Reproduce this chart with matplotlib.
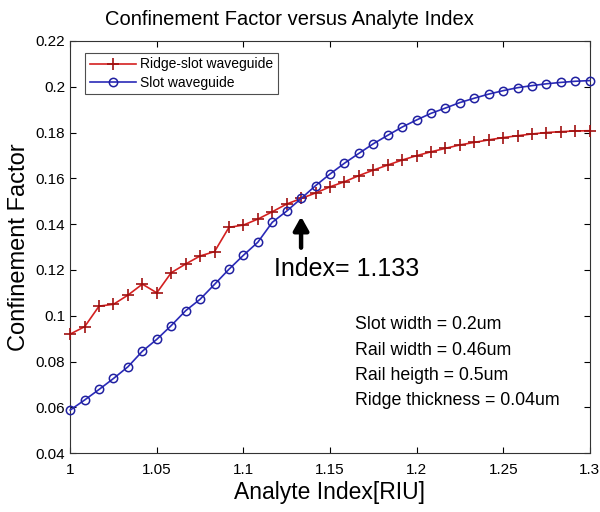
import matplotlib
matplotlib.use("Agg")
import matplotlib.pyplot as plt
import numpy as np
from matplotlib.ticker import FuncFormatter

plt.rcParams["font.family"] = ["Liberation Sans", "DejaVu Sans"]

# analyte index, step 1/120
n_index = np.array([1 + i / 120 for i in range(37)])

ridge_slot = [0.0920, 0.0952, 0.1042, 0.1050, 0.1090, 0.1138, 0.1100, 0.1188,
              0.1226, 0.1261, 0.1280, 0.1386, 0.1396, 0.1422, 0.1454, 0.1488,
              0.1512, 0.1536, 0.1563, 0.1585, 0.1612, 0.1636, 0.1658, 0.1680,
              0.1699, 0.1716, 0.1731, 0.1746, 0.1757, 0.1768, 0.1778, 0.1786,
              0.1794, 0.1800, 0.1804, 0.1807, 0.1808]

slot = [0.0588, 0.0632, 0.0678, 0.0726, 0.0777, 0.0845, 0.0897, 0.0957,
        0.1022, 0.1072, 0.1137, 0.1203, 0.1264, 0.1321, 0.1408, 0.1457,
        0.1512, 0.1568, 0.1619, 0.1666, 0.1709, 0.1751, 0.1788, 0.1824,
        0.1855, 0.1884, 0.1907, 0.1931, 0.1950, 0.1968, 0.1983, 0.1996,
        0.2005, 0.2013, 0.2019, 0.2024, 0.2027]

params = ["Slot width = 0.2um", "Rail width = 0.46um",
          "Rail heigth = 0.5um", "Ridge thickness = 0.04um"]

fig = plt.figure(figsize=(6, 5.12), dpi=100)
ax = fig.add_axes([0.117, 0.115, 0.866, 0.805])

ax.plot(n_index, ridge_slot, color="#d42020", lw=1.2, marker="+",
        ms=8, mew=1.2, mec="#a01010", label="Ridge-slot waveguide",
        clip_on=False, zorder=3)
ax.plot(n_index, slot, color="#2a2ab8", lw=1.2, marker="o", ms=6,
        mfc="none", mew=1.1, mec="#2020a0", label="Slot waveguide",
        clip_on=False, zorder=3)

ax.set_xlim(1, 1.3)
ax.set_ylim(0.04, 0.22)
ax.set_xticks(np.arange(1, 1.31, 0.05))
ax.set_yticks(np.arange(0.04, 0.221, 0.02))
fmt = FuncFormatter(lambda v, p: f"{v:.4g}")
ax.xaxis.set_major_formatter(fmt)
ax.yaxis.set_major_formatter(fmt)
ax.tick_params(direction="in", top=True, right=True, labelsize=11, length=4)
ax.tick_params(axis="x", pad=7)
for s in ax.spines.values():
    s.set_color("#333333")

fig.text(0.483, 0.962, "Confinement Factor versus Analyte Index",
         fontsize=14.5, ha="center", va="center")
ax.set_xlabel("Analyte Index[RIU]", fontsize=16.5, labelpad=3)
ax.set_ylabel("Confinement Factor", fontsize=17, labelpad=4)

leg = ax.legend(loc="upper left", fontsize=10, frameon=True, fancybox=False,
                borderpad=0.35, handlelength=3.3, handletextpad=0.3,
                labelspacing=0.3, borderaxespad=0,
                bbox_to_anchor=(0.029, 0.972))
leg.get_frame().set_edgecolor("#222222")
leg.get_frame().set_linewidth(0.8)

ax.annotate("", xy=(1.1333, 0.1445), xytext=(1.1333, 0.1285),
            arrowprops=dict(arrowstyle="-|>,head_width=0.45,head_length=0.8",
                            color="black", lw=3.2))
ax.text(1.1175, 0.1205, "Index= 1.133", fontsize=18, ha="left", va="center")

for k, t in enumerate(params):
    ax.text(1.1645, 0.096 - k * 0.011, t, fontsize=12.8, ha="left", va="center")

plt.savefig("out.png", dpi=100)
